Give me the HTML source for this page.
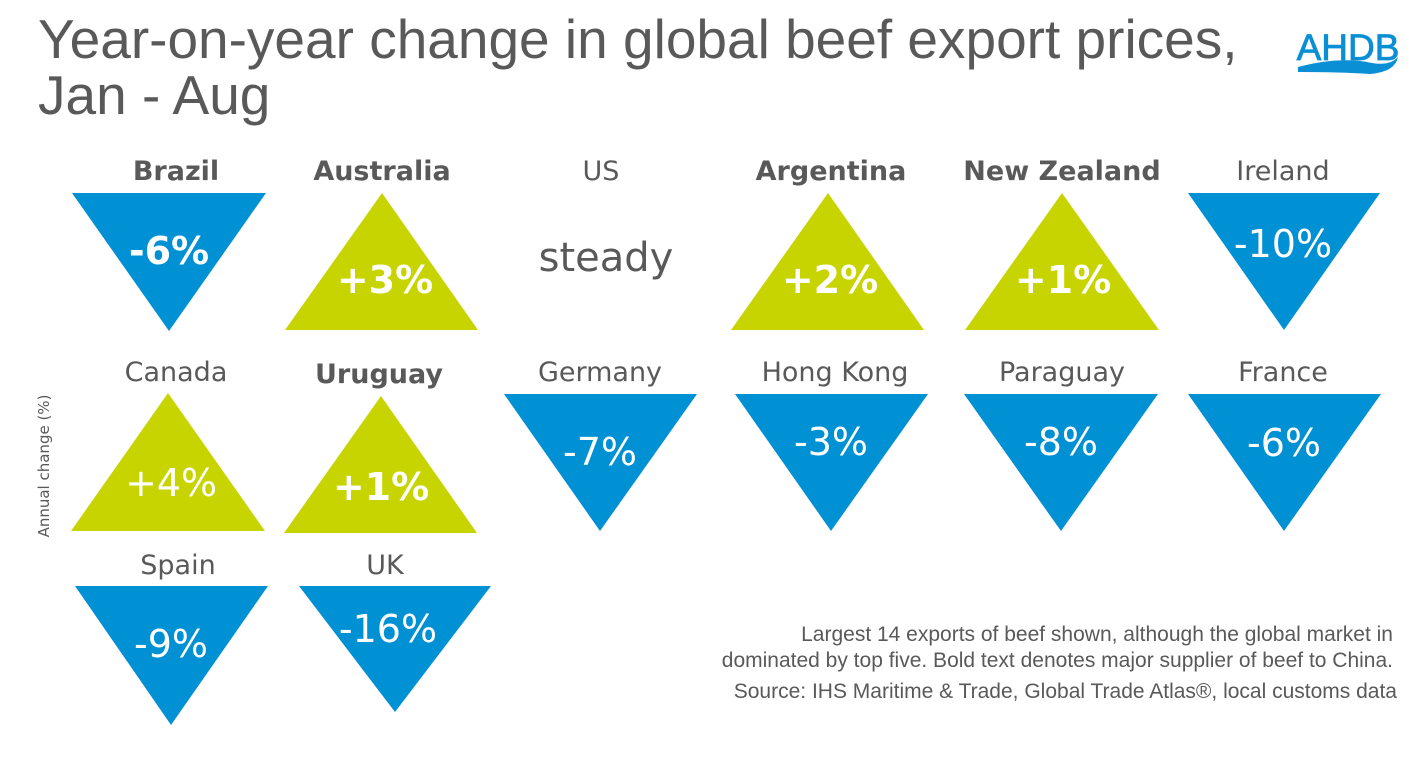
<!DOCTYPE html>
<html><head><meta charset="utf-8"><style>
body{margin:0;background:#fff;}
svg text{font-family:"DejaVu Sans","Liberation Sans",sans-serif;}
svg text.lib{font-family:"Liberation Sans",sans-serif;}
</style></head><body>
<svg width="1425" height="762" viewBox="0 0 1425 762" xmlns="http://www.w3.org/2000/svg">
<text class="lib" x="38" y="58" font-size="55" fill="#595959">Year-on-year change in global beef export prices,</text>
<text class="lib" x="38" y="114" font-size="55" fill="#595959">Jan - Aug</text>
<text class="lib" x="1348" y="60" text-anchor="middle" font-size="37" fill="#0a8fd4" stroke="#0a8fd4" stroke-width="0.8">AHDB</text>
<path d="M1298 67 Q1340 56 1372 63 Q1390 66 1398 57 Q1395 72 1370 74 Q1340 72 1298 72 Z" fill="#0a8fd4"/>
<g fill="#0090d4">
<polygon points="72,193 266,193 169,331"/>
<polygon points="1188,193 1380,193 1284,330"/>
<polygon points="504,394 697,394 600,531"/>
<polygon points="735,394 928,394 831,531"/>
<polygon points="964,394 1158,394 1061,531"/>
<polygon points="1188,394 1381,394 1284,531"/>
<polygon points="75,586 268,586 171,725"/>
<polygon points="299,586 491,586 395,712"/>
</g>
<g fill="#c8d400">
<polygon points="382,193 478,330 285,330"/>
<polygon points="828,193 924,330 731,330"/>
<polygon points="1062,193 1159,330 965,330"/>
<polygon points="168,393 265,531 71,531"/>
<polygon points="381,396 477,533 284,533"/>
</g>
<g font-size="27" fill="#595959" text-anchor="middle">
<text x="176" y="180" font-weight="bold">Brazil</text>
<text x="382" y="180" font-weight="bold">Australia</text>
<text x="601" y="180">US</text>
<text x="831" y="180" font-weight="bold">Argentina</text>
<text x="1062" y="180" font-weight="bold">New Zealand</text>
<text x="1283" y="180">Ireland</text>
<text x="176" y="381">Canada</text>
<text x="379" y="383" font-weight="bold">Uruguay</text>
<text x="600" y="381">Germany</text>
<text x="835" y="381">Hong Kong</text>
<text x="1062" y="381">Paraguay</text>
<text x="1283" y="381">France</text>
<text x="178" y="574">Spain</text>
<text x="385" y="574">UK</text>
<text x="606" y="271" font-size="40">steady</text>
</g>
<g font-size="38" fill="#fff" text-anchor="middle">
<text x="169" y="264" font-weight="bold">-6%</text>
<text x="385" y="293" font-weight="bold">+3%</text>
<text x="830" y="293" font-weight="bold">+2%</text>
<text x="1063" y="293" font-weight="bold">+1%</text>
<text x="1283" y="257">-10%</text>
<text x="171" y="496">+4%</text>
<text x="381" y="500" font-weight="bold">+1%</text>
<text x="600" y="465">-7%</text>
<text x="831" y="455">-3%</text>
<text x="1061" y="455">-8%</text>
<text x="1284" y="456">-6%</text>
<text x="171" y="657">-9%</text>
<text x="388" y="642">-16%</text>
</g>
<text transform="translate(49,466) rotate(-90)" text-anchor="middle" font-size="15" fill="#595959">Annual change (%)</text>
<g font-size="21" fill="#595959" text-anchor="end">
<text class="lib" x="1393" y="641">Largest 14 exports of beef shown, although the global market in</text>
<text class="lib" x="1393" y="667">dominated by top five. Bold text denotes major supplier of beef to China.</text>
<text class="lib" x="1397" y="698">Source: IHS Maritime &amp; Trade, Global Trade Atlas®, local customs data</text>
</g>
</svg>
</body></html>
